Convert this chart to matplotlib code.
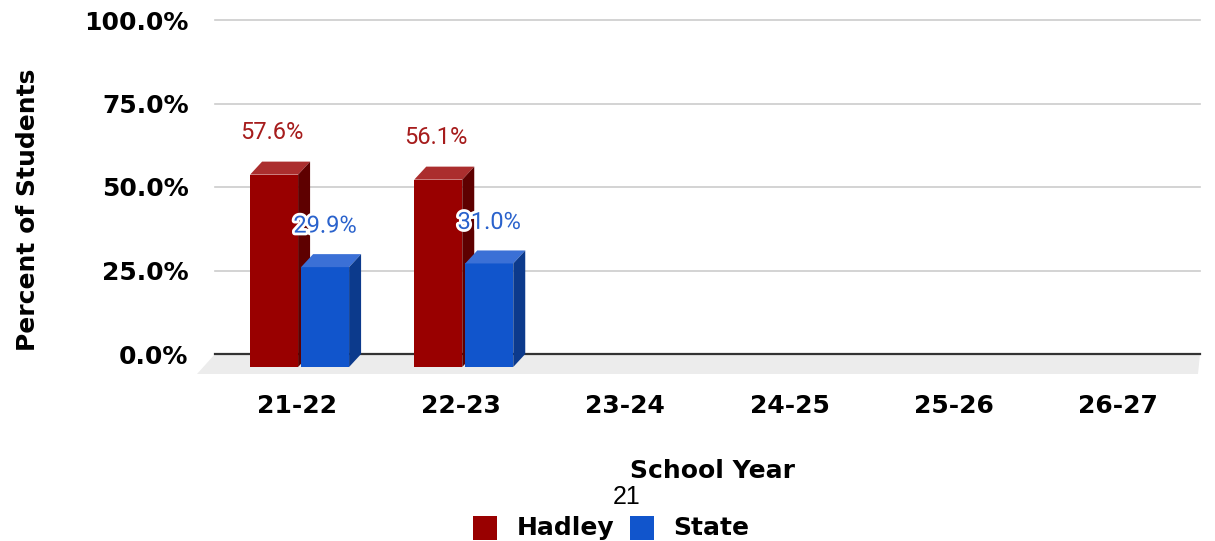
import matplotlib
matplotlib.use('Agg')
import matplotlib.pyplot as plt
from matplotlib.patches import Polygon, Rectangle
import matplotlib.patheffects as pe

# data
years = ['21-22', '22-23', '23-24', '24-25', '25-26', '26-27']
hadley = [57.6, 56.1]
state = [29.9, 31.0]
y_ticks = [0, 25, 50, 75, 100]

W, H = 1215, 541
fig = plt.figure(figsize=(W / 100, H / 100), dpi=100)

# axes placed in pixel terms: back plane 0% at y=354, 100% at y=20
ax = fig.add_axes([215 / W, 1 - 354 / H, (1200 - 215) / W, (354 - 20) / H])
ax.set_xlim(-0.5, 5.5)
ax.set_ylim(0, 100)
for s in ax.spines.values():
    s.set_visible(False)

px_x = 6 / 985.0     # data units per pixel
px_y = 100 / 334.0
dx = 12 * px_x       # 3d depth offset
dy = 13 * px_y

# floor
floor = Polygon([(-0.5, 0), (5.5, 0), (5.5 - 2 * px_x, -20 * px_y), (-0.5 - 18 * px_x, -20 * px_y)],
                closed=True, facecolor='#ececec', edgecolor='none', clip_on=False, zorder=0)
ax.add_patch(floor)

# gridlines
for t in y_ticks[1:]:
    ax.plot([-0.5, 5.5], [t, t], color='#cccccc', lw=1.2, zorder=1, clip_on=False)
ax.plot([-0.5, 5.5], [0, 0], color='#333333', lw=1.6, zorder=1, clip_on=False)


def bar3d(x0, w, v, front, top, side):
    ax.add_patch(Polygon([(x0, -dy), (x0 + w, -dy), (x0 + w, v - dy), (x0, v - dy)],
                         facecolor=front, edgecolor='none', clip_on=False, zorder=3))
    ax.add_patch(Polygon([(x0, v - dy), (x0 + w, v - dy), (x0 + w + dx, v), (x0 + dx, v)],
                         facecolor=top, edgecolor='none', clip_on=False, zorder=3))
    ax.add_patch(Polygon([(x0 + w, -dy), (x0 + w + dx, 0), (x0 + w + dx, v), (x0 + w, v - dy)],
                         facecolor=side, edgecolor='none', clip_on=False, zorder=3))


bw = 48 * px_x
for i, v in enumerate(hadley):
    x0 = i - 47 * px_x
    bar3d(x0, bw, v, '#990000', '#ab2e2e', '#5e0000')
    ax.text(x0 + bw / 2 - 2 * px_x, v + 8.6, f'{v:.1f}%', ha='center', va='center',
            fontsize=17, color='#a61c1c', family='Roboto', zorder=5)

for i, v in enumerate(state):
    x0 = i + 4 * px_x
    bar3d(x0, bw, v, '#1155cc', '#3b70d6', '#0c3a8c')
    ax.text(x0 + bw / 2, v + 8.4, f'{v:.1f}%', ha='center', va='center',
            fontsize=17, color='#2a62cc', family='Roboto', zorder=6,
            path_effects=[pe.withStroke(linewidth=4, foreground='white')])

ax.set_yticks(y_ticks)
ax.set_yticklabels([f'{t:.1f}%' for t in y_ticks], fontsize=18, fontweight='bold', color='black')
ax.set_xticks(range(len(years)))
ax.set_xticklabels(years, fontsize=18, fontweight='bold', color='black')
ax.tick_params(axis='y', length=0, pad=19)
ax.tick_params(axis='x', length=0, pad=29)

fig.text(28 / W, 1 - 210 / H, 'Percent of Students', rotation=90, ha='center', va='center',
         fontsize=18, fontweight='bold')
fig.text(713 / W, 1 - 471 / H, 'School Year', ha='center', va='center',
         fontsize=18, fontweight='bold')
fig.text(627 / W, 1 - 497 / H, '21', ha='center', va='center', fontsize=18, family='Liberation Sans')

# legend
fig.add_artist(Rectangle((473 / W, 1 - 540 / H), 24 / W, 24 / H, transform=fig.transFigure,
                         facecolor='#990000', edgecolor='none'))
fig.text(517 / W, 1 - 528 / H, 'Hadley', ha='left', va='center', fontsize=18, fontweight='bold')
fig.add_artist(Rectangle((630 / W, 1 - 540 / H), 24 / W, 24 / H, transform=fig.transFigure,
                         facecolor='#1155cc', edgecolor='none'))
fig.text(673 / W, 1 - 528 / H, 'State', ha='left', va='center', fontsize=18, fontweight='bold')

fig.savefig('out.png', dpi=100)
